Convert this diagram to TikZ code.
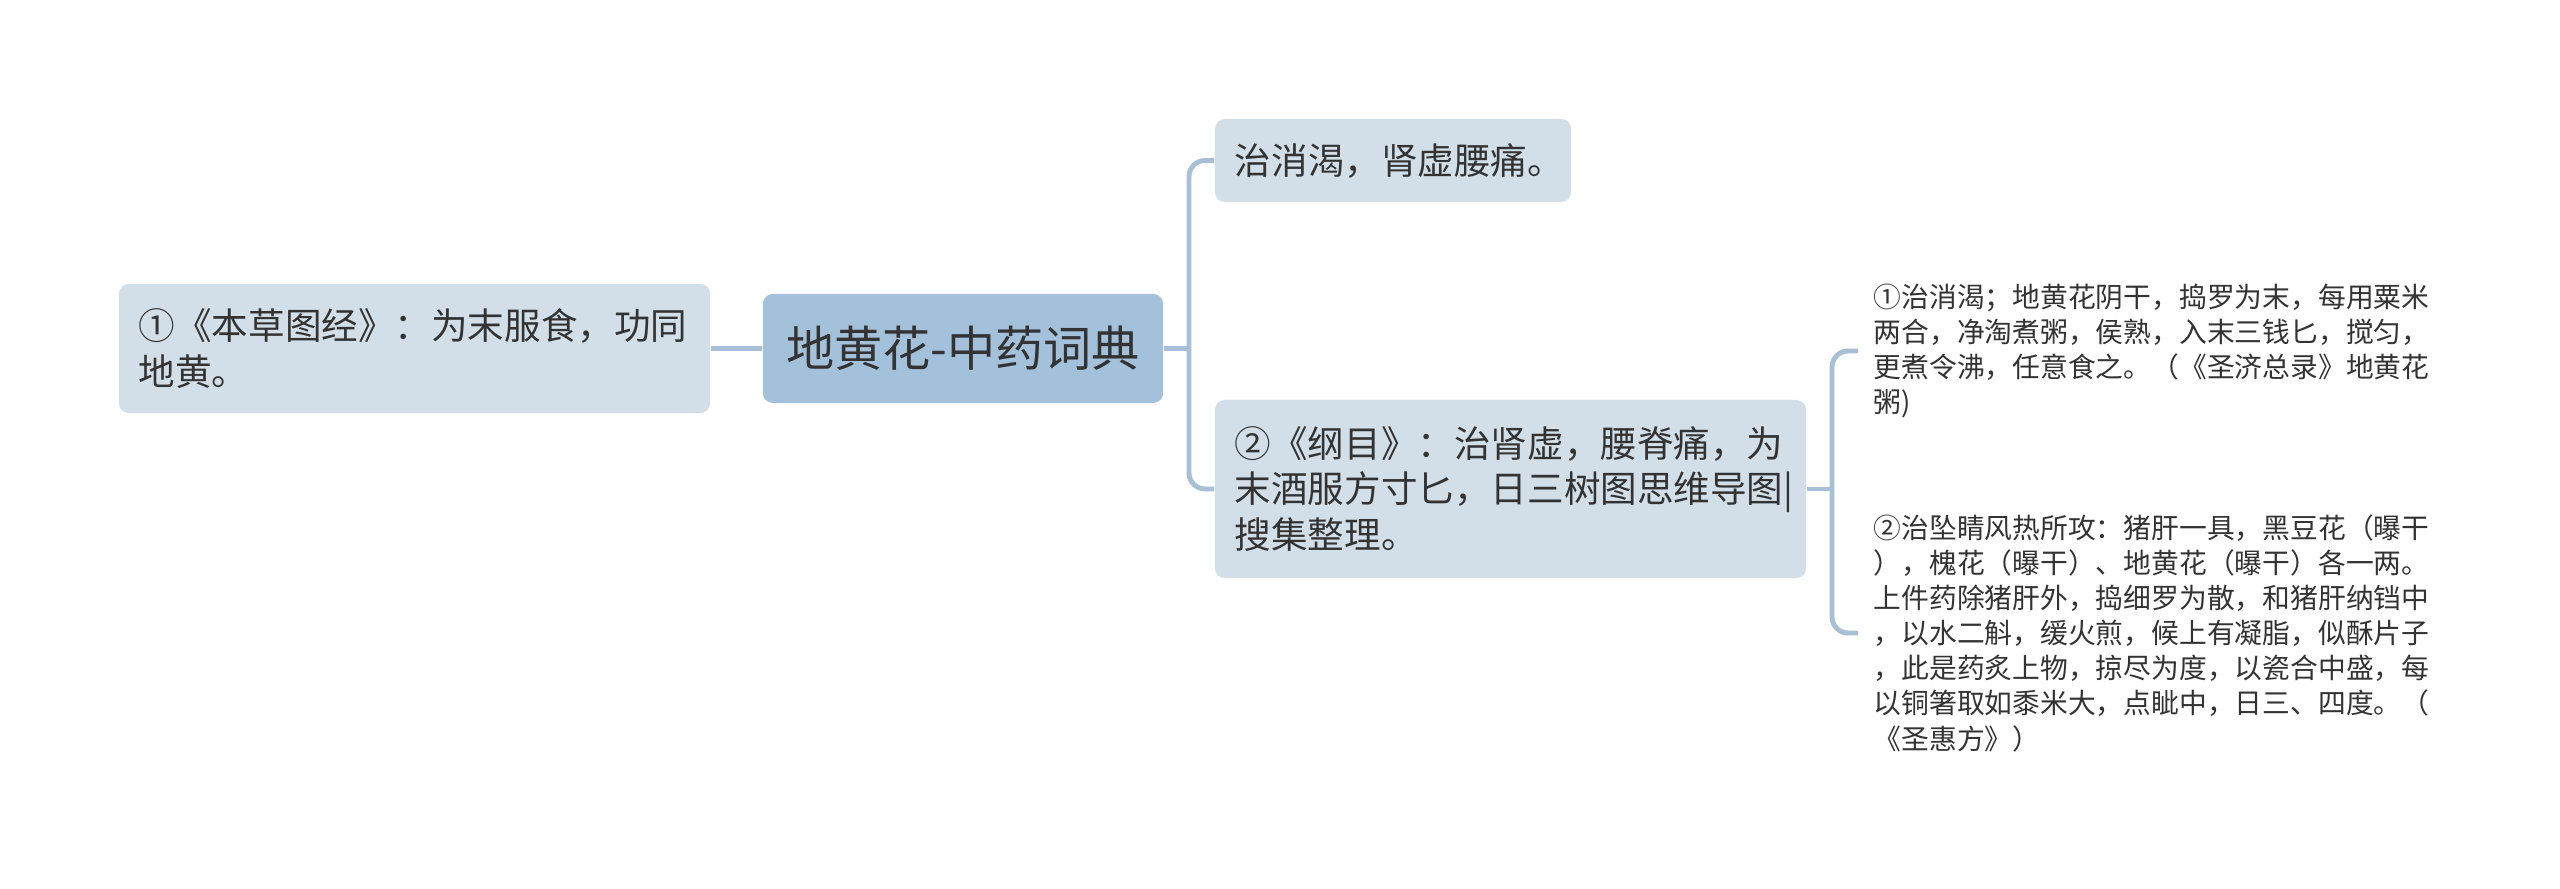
\documentclass[tikz,border=0pt]{standalone}
\usepackage{fontspec}
\newfontfamily\cjkfont{Noto Sans CJK SC}
\usetikzlibrary{positioning}
\definecolor{rootblue}{HTML}{A4C1DC}
\definecolor{boxgrey}{HTML}{D3DFE8}
\definecolor{linkblue}{HTML}{A7C0D8}
\definecolor{inkgrey}{HTML}{333333}
\tikzset{
  root/.style={fill=rootblue, rounded corners=0.1cm, minimum width=4cm,
               minimum height=1.09cm, inner sep=0pt, text=inkgrey,
               font=\cjkfont\fontsize{13.7}{16}\selectfont},
  topic/.style={fill=boxgrey, rounded corners=0.1cm, align=left,
                inner xsep=0.2cm, inner ysep=0pt, text=inkgrey,
                font=\cjkfont\fontsize{10.4}{13}\selectfont},
  leaf/.style={align=left, inner xsep=0.15cm, inner ysep=0pt,
               text width=5.6cm, text=inkgrey,
               font=\cjkfont\fontsize{7.9}{10}\selectfont},
  link/.style={draw=linkblue, line width=1.4pt, rounded corners=0.16cm},
}

\begin{document}
\begin{tikzpicture}[x=0.01cm, y=-0.01cm]

\fill[white] (0,0) rectangle (2560,889);
\useasboundingbox (0,0) rectangle (2560,889);

\node[root] (root) at (963,348.5) {地黄花-中药词典};

\node[topic, text width=5.51cm, minimum height=1.29cm] (bencao) at (414.5,348.5)
  {①《本草图经》：为末服食，功同\\地黄。};

\node[topic, text width=3.16cm, minimum height=0.83cm] (zhi) at (1393,160.5)
  {治消渴，肾虚腰痛。};

\node[topic, text width=5.51cm, minimum height=1.78cm] (gangmu) at (1510.5,489)
  {②《纲目》：治肾虚，腰脊痛，为\\末酒服方寸匕，日三树图思维导图|\\搜集整理。};

\node[leaf, anchor=west] (zhou) at (1858,351)
  {①治消渴；地黄花阴干，捣罗为末，每用粟米\\
   两合，净淘煮粥，侯熟，入末三钱匕，搅匀，\\
   更煮令沸，任意食之。（《圣济总录》地黄花\\
   粥)};

\node[leaf, anchor=west] (shenghui) at (1858,633)
  {②治坠睛风热所攻：猪肝一具，黑豆花（曝干\\
   ），槐花（曝干）、地黄花（曝干）各一两。\\
   上件药除猪肝外，捣细罗为散，和猪肝纳铛中\\
   ，以水二斛，缓火煎，候上有凝脂，似酥片子\\
   ，此是药炙上物，掠尽为度，以瓷合中盛，每\\
   以铜箸取如黍米大，点眦中，日三、四度。（\\
   《圣惠方》）};

\coordinate (fork) at (1189,348.5);
\coordinate (subfork) at (1832,489);

\draw[link] (bencao.east) -- (root.west);
\draw[link] (root.east) -- (fork);
\draw[link] (zhi.west) -| (fork) |- (gangmu.west);
\draw[link] (gangmu.east) -- (subfork);
\draw[link] (zhou.west) -| (subfork) |- (shenghui.west);

\end{tikzpicture}
\end{document}
